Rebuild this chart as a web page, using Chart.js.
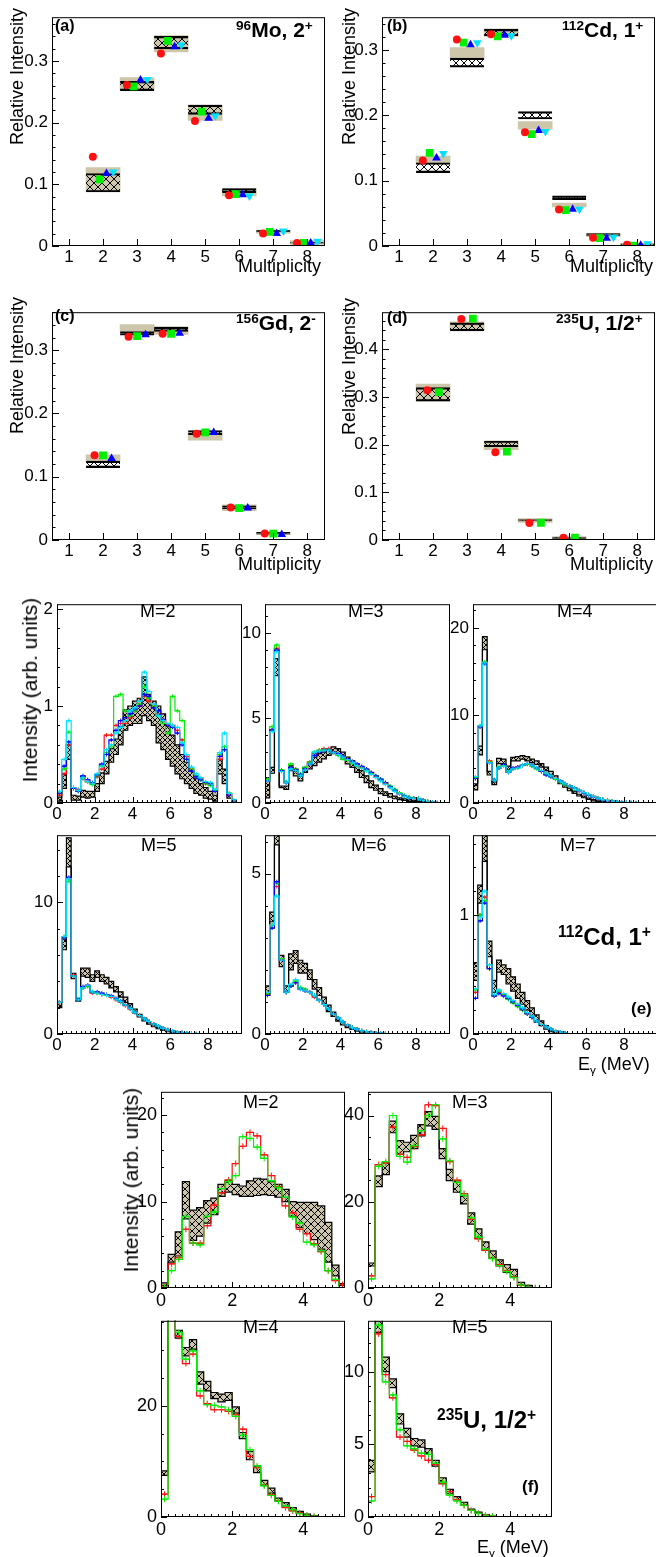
<!DOCTYPE html>
<html>
  <head>
    <meta charset="utf-8">
    <title>Multiplicity and gamma spectra</title>
    <script src="https://cdn.jsdelivr.net/npm/chart.js"></script>
    <style>
      body { margin: 0; background: #fff; overflow: hidden; }
      #page { position: relative; width: 656px; height: 1557px; overflow: hidden;
              font-family: "Liberation Sans", Arial, Helvetica, sans-serif; }
      canvas { position: absolute; }
      .t { position: absolute; white-space: nowrap; color: #000; line-height: 1; z-index: 2; }
      .b { font-weight: bold; }
      .v { writing-mode: vertical-rl; transform: rotate(180deg); }
      sup { font-size: 0.65em; vertical-align: 0.5em; line-height: 0; }
      sub { font-size: 0.65em; vertical-align: -0.3em; line-height: 0; }
    </style>
  </head>
  <body>
    <div id="page">
      <!-- (a)-(d) -->
      <div class="t b" style="left:55px;top:18px;font-size:16px">(a)</div>
      <div class="t b" style="left:236px;top:19px;font-size:21px"><sup>96</sup>Mo, 2<sup>+</sup></div>
      <div class="t b" style="left:387px;top:18px;font-size:16px">(b)</div>
      <div class="t b" style="left:562px;top:19px;font-size:21px"><sup>112</sup>Cd, 1<sup>+</sup></div>
      <div class="t b" style="left:55px;top:308px;font-size:16px">(c)</div>
      <div class="t b" style="left:236px;top:312px;font-size:21px"><sup>156</sup>Gd, 2<sup>-</sup></div>
      <div class="t b" style="left:387px;top:310px;font-size:16px">(d)</div>
      <div class="t b" style="left:556px;top:312px;font-size:21px"><sup>235</sup>U, 1/2<sup>+</sup></div>
      <div class="t v" style="left:8px;top:8px;font-size:18px">Relative Intensity</div>
      <div class="t v" style="left:340px;top:8px;font-size:18px">Relative Intensity</div>
      <div class="t v" style="left:8px;top:297px;font-size:18px">Relative Intensity</div>
      <div class="t v" style="left:340px;top:298px;font-size:18px">Relative Intensity</div>
      <div class="t" style="left:238px;top:257px;font-size:18px">Multiplicity</div>
      <div class="t" style="left:570px;top:257px;font-size:18px">Multiplicity</div>
      <div class="t" style="left:238px;top:555px;font-size:18px">Multiplicity</div>
      <div class="t" style="left:570px;top:555px;font-size:18px">Multiplicity</div>
      <!-- (e) -->
      <div class="t v" style="left:19px;top:598px;font-size:21px">Intensity (arb. units)</div>
      <div class="t" style="left:140px;top:602px;font-size:18px">M=2</div>
      <div class="t" style="left:348px;top:602px;font-size:18px">M=3</div>
      <div class="t" style="left:557px;top:602px;font-size:18px">M=4</div>
      <div class="t" style="left:141px;top:836px;font-size:18px">M=5</div>
      <div class="t" style="left:351px;top:836px;font-size:18px">M=6</div>
      <div class="t" style="left:560px;top:836px;font-size:18px">M=7</div>
      <div class="t b" style="left:558px;top:925px;font-size:24px"><sup>112</sup>Cd, 1<sup>+</sup></div>
      <div class="t b" style="left:631px;top:1000px;font-size:17px">(e)</div>
      <div class="t" style="left:578px;top:1055px;font-size:18px">E<sub>γ</sub> (MeV)</div>
      <!-- (f) -->
      <div class="t v" style="left:120px;top:1088px;font-size:21px">Intensity (arb. units)</div>
      <div class="t" style="left:243px;top:1093px;font-size:18px">M=2</div>
      <div class="t" style="left:452px;top:1093px;font-size:18px">M=3</div>
      <div class="t" style="left:243px;top:1318px;font-size:18px">M=4</div>
      <div class="t" style="left:452px;top:1318px;font-size:18px">M=5</div>
      <div class="t b" style="left:437px;top:1408px;font-size:24px"><sup>235</sup>U, 1/2<sup>+</sup></div>
      <div class="t b" style="left:522px;top:1478px;font-size:17px">(f)</div>
      <div class="t" style="left:477px;top:1538px;font-size:18px">E<sub>γ</sub> (MeV)</div>
    </div>

    <script>
      // ---- (a) 96Mo 2+ ----
      const moM = [2, 3, 4, 5, 6, 7, 8];
      const moSysLo = [0.0886, 0.252, 0.3145, 0.2036, 0.0813, 0.0207, 0.0026];
      const moSysHi = [0.127, 0.273, 0.341, 0.2285, 0.0933, 0.026, 0.0088];
      const moExpLo = [0.0876, 0.252, 0.3197, 0.2135, 0.0865, 0.0233, 0.0047];
      const moExpHi = [0.1176, 0.267, 0.340, 0.2285, 0.0933, 0.0254, 0.006];
      const moRed = [0.1446, 0.261, 0.312, 0.2026, 0.0824, 0.0202, 0.0047];
      const moGreen = [0.108, 0.259, 0.3326, 0.218, 0.084, 0.0228, 0.005];
      const moBlue = [0.1176, 0.269, 0.323, 0.207, 0.083, 0.0202, 0.0047];
      const moCyan = [0.12, 0.27, 0.326, 0.211, 0.081, 0.0243, 0.0078];

      // ---- (b) 112Cd 1+ ----
      const cdM = [2, 3, 4, 5, 6, 7, 8];
      const cdSysLo = [0.125, 0.2873, 0.3206, 0.1787, 0.0597, 0.0142, 0.0005];
      const cdSysHi = [0.1377, 0.3035, 0.3324, 0.1904, 0.0656, 0.019, 0.0034];
      const cdExpLo = [0.1122, 0.2736, 0.3216, 0.1943, 0.071, 0.0162, 0.0015];
      const cdExpHi = [0.1274, 0.2873, 0.3314, 0.2056, 0.0768, 0.019, 0.0034];
      const cdRed = [0.1309, 0.3157, 0.324, 0.174, 0.0558, 0.0127, 0.002];
      const cdGreen = [0.1426, 0.311, 0.3206, 0.171, 0.0548, 0.0122, 0.0005];
      const cdBlue = [0.1348, 0.308, 0.3225, 0.1767, 0.0563, 0.0117, 0.001];
      const cdCyan = [0.1416, 0.311, 0.3216, 0.175, 0.0563, 0.0132, 0.0034];

      // ---- (c) 156Gd 2- ----
      const gdM = [2, 3, 4, 5, 6, 7];
      const gdSysLo = [0.1246, 0.3303, 0.3248, 0.1578, 0.0464, 0.0088];
      const gdSysHi = [0.1346, 0.3404, 0.3369, 0.1715, 0.0555, 0.0116];
      const gdExpLo = [0.1145, 0.3237, 0.3298, 0.1664, 0.0494, 0.0091];
      const gdExpHi = [0.1246, 0.3293, 0.3364, 0.173, 0.054, 0.0121];
      const gdRed = [0.1341, 0.3212, 0.3258, 0.168, 0.0514, 0.0101];
      const gdGreen = [0.1336, 0.3222, 0.3258, 0.170, 0.0504, 0.0101];
      const gdBlue = [0.1286, 0.3243, 0.3268, 0.170, 0.0504, 0.0086];

      // ---- (d) 235U 1/2+ ----
      const uM = [2, 3, 4, 5, 6];
      const uSysLo = [0.2915, 0.4402, 0.1896, 0.0369, 0.0013];
      const uSysHi = [0.327, 0.4576, 0.2077, 0.0449, 0.0067];
      const uExpLo = [0.2915, 0.4389, 0.1956, 0.0402, 0.0034];
      const uExpHi = [0.3196, 0.4556, 0.2077, 0.0429, 0.006];
      const uRed = [0.3142, 0.4636, 0.1843, 0.0355, 0.0047];
      const uGreen = [0.3102, 0.4643, 0.1856, 0.0362, 0.0047];

      // ---- (e) 112Cd spectra, 0.25 MeV bins ----
      const e2Lo = [0.02,0.15,0.45,0.03,0.03,0.06,0.05,0.06,0.12,0.2, 0.3,0.42,0.5,0.6,0.75,0.8,0.82,0.82,0.9,0.85, 0.8,0.62,0.55,0.45,0.38,0.3,0.25,0.2,0.15,0.1, 0.08,0.05,0.04,0.02,0.3,0.2,0.05,0,0];
      const e2Hi = [0.06,0.3,0.6,0.08,0.07,0.13,0.12,0.12,0.2,0.31, 0.43,0.56,0.66,0.79,0.96,1.0,1.05,1.08,1.3,1.12, 1.05,1.0,0.92,0.8,0.7,0.6,0.5,0.42,0.33,0.25, 0.2,0.16,0.12,0.08,0.45,0.35,0.1,0.03,0];
      const e2Red = [0.08,0.3,0.6,0.16,0.14,0.25,0.22,0.2,0.27,0.35, 0.7,0.7,0.8,0.82,0.82,0.88,0.95,1.0,1.1,1.05, 1.0,0.92,0.85,0.8,0.8,0.75,0.65,0.48,0.35,0.28, 0.25,0.2,0.2,0.12,0.45,0.55,0.08,0.02,0];
      const e2Green = [0.1,0.35,0.73,0.15,0.12,0.26,0.22,0.19,0.28,0.38, 0.52,0.58,1.1,1.12,0.95,0.9,0.95,1.02,1.2,1.08, 1.0,0.9,0.82,0.72,1.1,0.95,0.85,0.45,0.35,0.28, 0.24,0.2,0.18,0.13,0.5,0.58,0.1,0.02,0];
      const e2Blue = [0.1,0.38,0.63,0.15,0.12,0.28,0.24,0.21,0.29,0.4, 0.5,0.65,0.75,0.85,0.88,0.92,0.97,1.0,1.12,1.1, 0.98,0.95,0.86,0.8,0.78,0.72,0.6,0.45,0.33,0.27, 0.24,0.21,0.2,0.12,0.48,0.55,0.08,0.02,0];
      const e2Cyan = [0.12,0.45,0.85,0.16,0.13,0.26,0.22,0.2,0.3,0.38, 0.55,0.6,0.72,0.78,0.85,0.95,0.98,1.05,1.35,1.15, 1.02,0.9,0.85,0.82,0.8,0.78,0.62,0.5,0.37,0.3, 0.26,0.22,0.21,0.14,0.52,0.72,0.1,0.03,0];

      const e3Lo = [0.3,1.75,7.5,0.9,0.8,1.9,1.6,1.3,1.8,2.0, 2.2,2.4,2.6,2.8,2.9,2.9,2.6,2.3,2.1,1.8, 1.5,1.2,0.9,0.75,0.55,0.45,0.35,0.25,0.2,0.15, 0.1,0.1,0.08,0.03,0.02,0];
      const e3Hi = [1.5,2.1,8.5,1.0,1.0,2.2,1.9,1.6,2.1,2.4, 2.7,2.9,3.0,3.2,3.3,3.2,3.0,2.7,2.5,2.2, 1.9,1.6,1.3,1.05,0.85,0.65,0.55,0.4,0.3,0.25, 0.2,0.15,0.12,0.08,0.04,0.01,0];
      const e3Red = [1.3,4.3,9.1,1.9,1.2,2.1,2.0,1.7,2.0,2.4, 2.9,3.1,3.2,3.2,3.0,2.85,2.7,2.55,2.4,2.25, 2.1,1.95,1.75,1.55,1.35,1.15,0.95,0.75,0.55,0.42, 0.32,0.28,0.25,0.16,0.08,0.04,0.01,0];
      const e3Green = [1.4,4.5,9.3,1.95,1.25,2.3,2.0,1.7,2.1,2.4, 3.0,3.1,3.15,3.1,3.0,2.8,2.6,2.5,2.35,2.2, 2.05,1.9,1.75,1.6,1.4,1.2,1.0,0.8,0.6,0.45, 0.35,0.3,0.28,0.18,0.09,0.04,0.01,0];
      const e3Blue = [1.3,4.3,9.0,1.9,1.2,2.1,1.95,1.65,2.0,2.3, 2.8,3.0,3.1,3.1,3.0,2.9,2.75,2.6,2.45,2.3, 2.15,2.0,1.8,1.6,1.4,1.2,0.95,0.75,0.55,0.42, 0.32,0.28,0.25,0.16,0.08,0.04,0.01,0];
      const e3Cyan = [1.3,4.2,8.9,1.85,1.2,2.0,1.9,1.6,1.95,2.3, 3.0,3.05,3.1,3.1,2.95,2.85,2.7,2.55,2.4,2.2, 2.05,1.9,1.7,1.5,1.3,1.1,0.9,0.7,0.55,0.4, 0.3,0.27,0.25,0.15,0.08,0.03,0.01,0];

      const e4Lo = [1.5,5.5,17.5,3.2,2.1,4.5,4.4,3.8,4.8,4.8, 5.0,4.8,4.6,4.4,4.1,3.7,3.2,2.8,2.2,1.8, 1.4,1.1,0.8,0.6,0.4,0.25,0.15,0.1,0.05,0.03, 0.02,0.01,0];
      const e4Hi = [2.2,6.5,19,3.6,2.4,5.1,5.0,4.2,5.2,5.3, 5.4,5.3,5.0,4.8,4.5,4.1,3.6,3.1,2.5,2.1, 1.7,1.35,1.0,0.8,0.55,0.4,0.25,0.18,0.1,0.06, 0.03,0.02,0.01,0];
      const e4Red = [2.8,8.7,16.0,4.8,2.7,4.0,4.3,3.5,3.9,4.1, 4.3,4.5,4.3,4.0,3.7,3.4,3.1,2.8,2.5,2.2, 1.95,1.7,1.45,1.2,0.95,0.75,0.55,0.4,0.3,0.2, 0.12,0.08,0.05,0.03,0.01,0];
      const e4Green = [2.9,8.8,16.1,4.7,2.6,4.1,4.3,3.6,3.9,4.0, 4.3,4.4,4.2,3.9,3.6,3.3,3.0,2.7,2.4,2.1, 1.9,1.65,1.45,1.2,0.95,0.75,0.55,0.4,0.3,0.2, 0.12,0.08,0.05,0.03,0.01,0];
      const e4Blue = [2.8,8.7,15.9,4.6,2.6,4.0,4.4,3.5,4.0,4.1, 4.3,4.5,4.3,4.0,3.6,3.2,3.0,2.8,2.5,2.2, 1.95,1.7,1.4,1.15,0.9,0.7,0.5,0.38,0.28,0.19, 0.12,0.08,0.05,0.03,0.01,0];
      const e4Cyan = [3.0,8.8,16.0,4.6,2.6,4.0,4.2,3.5,3.9,4.0, 4.3,4.5,4.3,4.0,3.7,3.4,3.1,2.8,2.5,2.2, 1.95,1.7,1.45,1.2,0.95,0.75,0.55,0.4,0.3,0.2, 0.12,0.08,0.05,0.03,0.01,0];

      const e5Lo = [2.0,6.4,12.7,4.2,2.5,4.4,4.3,4.0,4.3,4.0, 3.8,3.5,3.2,2.8,2.4,2.0,1.6,1.3,1.0,0.75, 0.55,0.4,0.28,0.18,0.12,0.08,0.05,0.02,0.01,0];
      const e5Hi = [2.4,7.2,14.9,4.6,2.7,5.0,5.0,4.5,4.8,4.5, 4.3,4.0,3.6,3.2,2.8,2.3,1.9,1.5,1.2,0.9, 0.7,0.5,0.36,0.25,0.17,0.11,0.07,0.03,0.01,0];
      const e5Red = [2.4,7.3,11.8,4.5,2.6,3.5,3.7,3.1,3.1,3.0, 2.95,2.8,2.6,2.4,2.15,1.9,1.65,1.4,1.15,0.95, 0.75,0.58,0.43,0.32,0.23,0.15,0.1,0.06,0.03,0.01,0];
      const e5Green = [2.4,7.4,11.6,4.4,2.6,3.5,3.6,3.2,3.1,3.0, 2.95,2.85,2.65,2.45,2.2,1.95,1.65,1.4,1.15,0.95, 0.75,0.58,0.43,0.32,0.23,0.15,0.1,0.06,0.03,0.01,0];
      const e5Blue = [2.4,7.3,11.9,4.4,2.6,3.6,3.7,3.2,3.2,3.1, 3.0,2.9,2.7,2.5,2.2,1.95,1.65,1.4,1.15,0.95, 0.75,0.58,0.43,0.32,0.23,0.15,0.1,0.06,0.03,0.01,0];
      const e5Cyan = [2.4,7.4,11.8,4.4,2.6,3.5,3.7,3.2,3.1,3.0, 2.95,2.85,2.65,2.45,2.2,1.95,1.65,1.4,1.15,0.95, 0.75,0.58,0.43,0.32,0.23,0.15,0.1,0.06,0.03,0.01,0];

      const e6Lo = [1.2,3.5,5.9,2.1,1.3,2.0,2.2,1.9,1.9,1.7, 1.4,1.2,0.95,0.7,0.55,0.4,0.28,0.2,0.14,0.09, 0.06,0.03,0.02,0.01,0];
      const e6Hi = [1.5,3.8,7.0,2.45,1.5,2.5,2.6,2.3,2.2,2.0, 1.7,1.45,1.15,0.9,0.68,0.5,0.36,0.25,0.18,0.12, 0.08,0.05,0.03,0.01,0];
      const e6Red = [1.25,3.4,4.6,2.3,1.3,1.5,1.6,1.4,1.35,1.3, 1.15,1.05,0.92,0.78,0.62,0.5,0.38,0.28,0.2,0.15, 0.1,0.07,0.05,0.03,0.02,0.01,0];
      const e6Green = [1.25,3.4,4.7,2.35,1.3,1.5,1.65,1.45,1.4,1.3, 1.2,1.05,0.92,0.78,0.62,0.5,0.38,0.28,0.2,0.15, 0.1,0.07,0.05,0.03,0.02,0.01,0];
      const e6Blue = [1.2,3.3,4.75,2.3,1.3,1.5,1.6,1.4,1.35,1.3, 1.2,1.05,0.92,0.78,0.62,0.5,0.38,0.28,0.2,0.15, 0.1,0.07,0.05,0.03,0.02,0.01,0];
      const e6Cyan = [1.3,3.4,4.3,2.3,1.3,1.55,1.7,1.4,1.35,1.3, 1.2,1.05,0.92,0.78,0.62,0.5,0.38,0.28,0.2,0.15, 0.1,0.07,0.05,0.03,0.02,0.01,0];

      const e7Lo = [0.45,1.1,1.45,0.65,0.35,0.52,0.5,0.42,0.36,0.3, 0.25,0.2,0.15,0.1,0.07,0.04,0.02,0.01,0];
      const e7Hi = [0.6,1.25,1.75,0.78,0.45,0.62,0.58,0.55,0.48,0.42, 0.35,0.28,0.22,0.16,0.11,0.07,0.04,0.02,0.01,0];
      const e7Red = [0.35,1.0,1.15,0.55,0.32,0.35,0.33,0.3,0.27,0.24, 0.2,0.17,0.14,0.11,0.08,0.06,0.04,0.025,0.015,0.008,0];
      const e7Green = [0.37,1.0,1.12,0.55,0.33,0.36,0.33,0.29,0.26,0.23, 0.2,0.17,0.14,0.11,0.08,0.06,0.04,0.025,0.015,0.008,0];
      const e7Blue = [0.3,0.95,1.1,0.55,0.32,0.34,0.32,0.3,0.27,0.24, 0.21,0.17,0.14,0.11,0.08,0.06,0.04,0.025,0.015,0.008,0];
      const e7Cyan = [0.38,0.98,1.2,0.58,0.33,0.37,0.34,0.31,0.28,0.25, 0.22,0.18,0.15,0.11,0.08,0.06,0.04,0.025,0.015,0.008,0];

      // ---- (f) 235U spectra, 0.2 MeV bins ----
      const f2Lo = [0.3,3.0,3.7,8.0,5.5,6.0,7.5,8.5,10.6,11.1, 10.8,10.6,10.6,10.7,10.8,10.7,10.5,10.0,8.3,7.0, 6.3,5.6,4.5,3.0,1.4,0.3,0];
      const f2Hi = [0.6,3.9,6.5,12.3,9.0,9.3,10.1,10.4,12.0,12.4, 12.0,11.8,12.4,12.7,12.6,12.3,12.0,11.4,10.0,9.9, 9.9,9.9,9.5,7.6,2.65,0.5,0];
      const f2Red = [0.2,2.8,3.5,6.8,5.2,5.2,7.2,9.6,11.0,12.5, 14.4,16.4,18.0,17.6,15.4,13.0,11.7,9.5,8.7,6.8, 6.3,5.1,4.2,2.0,0.85,0.4,0];
      const f2Green = [0.1,2.0,3.3,8.3,5.2,5.0,8.3,8.8,11.5,12.3, 13.0,17.5,17.3,16.3,15.0,12.4,11.6,10.5,8.2,7.5, 5.3,5.0,4.3,2.0,1.0,0];

      const f3Lo = [5.1,23.5,26.3,36.0,31.0,31.6,32.3,35.3,37.6,36.8, 30.0,24.9,22.2,19.5,14.8,11.5,8.8,6.9,5.1,3.6, 2.5,0.6,0.2,0];
      const f3Hi = [5.8,26.0,29.0,38.7,34.2,33.8,35.4,37.9,40.9,39.8, 32.3,27.5,24.9,21.4,17.4,13.7,10.7,8.6,6.5,5.4, 4.3,1.3,0.6,0.1,0];
      const f3Red = [2.8,28.6,29.0,37.3,31.0,30.3,32.8,35.5,42.5,42.3, 37.0,29.3,25.0,21.9,15.9,11.4,8.8,6.9,5.4,4.0, 2.5,0.6,0.2,0.05,0];
      const f3Green = [2.1,28.2,29.3,40.0,30.5,29.2,33.0,36.5,40.0,42.5, 34.6,29.5,24.5,21.5,16.3,11.8,9.0,6.8,5.2,3.8, 2.4,0.7,0.2,0.05,0];

      const f4Lo = [7.5,38,32.2,29.0,30.2,23.9,22.7,21.3,20.7,21.0, 18.7,14.1,10.3,8.0,5.7,4.3,2.9,2.0,1.3,0.7, 0.3,0.1,0];
      const f4Hi = [8.3,40,33.6,30.5,31.9,26.1,24.4,22.4,22.1,22.4, 19.8,15.2,11.8,9.2,6.6,5.2,3.4,2.6,1.7,1.0, 0.5,0.2,0];
      const f4Red = [4.1,39,32.5,27.6,29.3,21.8,20.4,19.3,19.3,19.0, 18.4,15.8,10.9,8.9,5.7,4.0,2.9,1.7,1.1,0.7, 0.3,0.1,0];
      const f4Green = [3.2,40,33.2,28.4,29.9,22.7,20.2,20.1,19.8,19.3, 18.1,14.7,12.1,9.2,5.6,3.9,2.8,2.0,1.3,0.6, 0.3,0.1,0];

      const f5Lo = [3.1,12.7,10.0,8.9,6.4,5.5,4.9,4.8,4.3,3.5, 2.3,1.6,1.2,0.8,0.45,0.26,0.1,0.03,0];
      const f5Hi = [3.9,14.0,11.0,9.5,7.1,6.1,5.4,5.3,4.7,3.9, 2.7,1.9,1.4,1.0,0.55,0.33,0.15,0.05,0];
      const f5Red = [1.4,12.6,9.8,8.2,5.5,5.2,4.6,4.2,3.9,3.6, 2.3,1.75,1.2,0.8,0.45,0.25,0.12,0.05,0];
      const f5Green = [1.1,13.2,9.3,8.4,6.0,4.9,4.7,4.4,4.3,3.7, 2.4,1.5,1.1,0.8,0.45,0.25,0.12,0.05,0];

      const BEIGE = '#cdc6ab';
      const RED = '#ff1010';
      const GREEN = '#00ee00';
      const BLUE = '#0000ff';
      const CYAN = '#00e2ff';

      Chart.defaults.font.family = '"Liberation Sans", Arial, Helvetica, sans-serif';
      Chart.defaults.color = '#000';
      Chart.defaults.animation = false;

      // cross hatch like ROOT fill style
      function hatch(bg, n) {
        const c = document.createElement('canvas');
        c.width = n; c.height = n;
        const g = c.getContext('2d');
        if (bg) { g.fillStyle = bg; g.fillRect(0, 0, n, n); }
        g.strokeStyle = '#000';
        g.lineWidth = 1;
        g.beginPath();
        g.moveTo(-1, -1); g.lineTo(n + 1, n + 1);
        g.moveTo(n + 1, -1); g.lineTo(-1, n + 1);
        g.stroke();
        return g.createPattern(c, 'repeat');
      }

      // frame + inward ticks
      const rootFrame = {
        id: 'rootFrame',
        afterDatasetsDraw(chart, args, o) {
          const {ctx, chartArea: a, scales: {x, y}} = chart;
          ctx.save();
          ctx.strokeStyle = '#000';
          ctx.lineWidth = 1;
          ctx.strokeRect(a.left + 0.5, a.top + 0.5, a.width - 1, a.height - 1);
          ctx.beginPath();
          const xm = o.xStep / o.xSub;
          for (let k = Math.ceil(x.min / xm - 1e-6); k * xm <= x.max + 1e-9; k++) {
            const px = Math.round(x.getPixelForValue(k * xm)) + 0.5;
            const len = k % o.xSub === 0 ? o.len : o.len / 2;
            ctx.moveTo(px, a.bottom); ctx.lineTo(px, a.bottom - len);
          }
          const ym = o.yStep / o.ySub;
          for (let k = Math.ceil(y.min / ym - 1e-6); k * ym <= y.max + 1e-9; k++) {
            const py = Math.round(y.getPixelForValue(k * ym)) + 0.5;
            const len = k % o.ySub === 0 ? o.len : o.len / 2;
            ctx.moveTo(a.left, py); ctx.lineTo(a.left + len, py);
          }
          ctx.stroke();
          ctx.restore();
        }
      };

      function place(r, m) {
        const c = document.createElement('canvas');
        c.width = r.w + m.l + m.r;
        c.height = r.h + m.t + m.b;
        c.style.left = (r.x - m.l) + 'px';
        c.style.top = (r.y - m.t) + 'px';
        document.getElementById('page').appendChild(c);
        return c;
      }

      function axes(m, size, xr, yr, pad) {
        const common = {type: 'linear', grid: {display: false, drawTicks: false}, border: {display: false}};
        return {
          x: {...common, min: xr[0], max: xr[1], offset: false,
              ticks: {stepSize: xr[2], font: {size}, padding: pad, includeBounds: false, maxRotation: 0, autoSkip: false},
              afterFit: s => { s.height = m.b; }},
          y: {...common, min: yr[0], max: yr[1],
              ticks: {stepSize: yr[2], font: {size}, padding: 4, includeBounds: false},
              afterFit: s => { s.width = m.l; }}
        };
      }

      function multPanel(r, yMax, ms, sysLo, sysHi, expLo, expHi, markers) {
        const m = {l: 42, r: 4, t: 4, b: 24};
        const box = (lo, hi) => ms.map((v, i) => ({x: v, y: [lo[i], hi[i]]}));
        const bar = {type: 'bar', grouped: false, categoryPercentage: 1, barPercentage: 1, borderSkipped: false};
        const sets = [
          {...bar, data: box(sysLo, sysHi), backgroundColor: BEIGE, borderWidth: 0, order: 3},
          {...bar, data: box(expLo, expHi), backgroundColor: hatch(null, 8), borderColor: '#000',
           borderWidth: {top: 1.5, bottom: 1.5, left: 0, right: 0}, order: 2}
        ];
        markers.forEach(k => sets.push({
          type: 'scatter', data: ms.map((v, i) => ({x: v + k.dx, y: k.vals[i]})),
          pointStyle: k.shape, pointRotation: k.rot || 0, pointRadius: k.r,
          pointBackgroundColor: k.color, pointBorderWidth: 0, order: 1
        }));
        new Chart(place(r, m), {
          type: 'bar',
          data: {datasets: sets},
          options: {
            responsive: false,
            layout: {padding: {top: m.t, right: m.r}, autoPadding: false},
            // max a little above 8.5 so the ticks fall on whole multiplicities
            scales: axes(m, 17, [0.5, 8.52, 1], [0, yMax, 0.1], 1),
            plugins: {legend: {display: false}, tooltip: {enabled: false},
                      rootFrame: {xStep: 1, xSub: 1, yStep: 0.1, ySub: 5, len: 7}}
          },
          plugins: [rootFrame]
        });
      }

      function histPanel(r, o) {
        const m = {l: 32, r: 3, t: 6, b: 24};
        const edges = vals => vals.map((v, i) => ({x: i * o.bw, y: v})).concat([{x: vals.length * o.bw, y: vals[vals.length - 1]}]);
        const centres = vals => vals.map((v, i) => ({x: (i + 0.5) * o.bw, y: v})).filter(p => p.y > 0);
        const step = {stepped: true, pointRadius: 0, borderWidth: 1.2, fill: false};
        const sets = [
          {...step, data: edges(o.hi), borderColor: '#000', fill: '+1', backgroundColor: hatch(BEIGE, o.hs), order: 20},
          {...step, data: edges(o.lo), borderColor: '#000', order: 19}
        ];
        o.models.forEach((s, k) => {
          sets.push({...step, data: edges(s.vals), borderColor: s.color, order: 10 - k});
          sets.push({type: 'scatter', data: centres(s.vals), pointStyle: 'cross', pointRadius: o.cr,
                     pointBorderColor: s.color, pointBorderWidth: 1, order: 5 - k});
        });
        new Chart(place(r, m), {
          type: 'line',
          data: {datasets: sets},
          options: {
            responsive: false,
            layout: {padding: {top: m.t, right: m.r}, autoPadding: false},
            scales: axes(m, o.fs, [0, o.xMax, 2], [0, o.yMax, o.yStep], o.pad),
            plugins: {legend: {display: false}, tooltip: {enabled: false},
                      rootFrame: {xStep: 2, xSub: o.xSub, yStep: o.yStep, ySub: o.ySub, len: 6}}
          },
          plugins: [rootFrame]
        });
      }

      const mk = (vals, color, shape, dx, r, rot) => ({vals, color, shape, dx, r, rot});

      multPanel({x: 52, y: 7, w: 273, h: 239}, 0.371, moM, moSysLo, moSysHi, moExpLo, moExpHi, [
        mk(moRed, RED, 'circle', -0.3, 4), mk(moGreen, GREEN, 'rect', -0.1, 5.5),
        mk(moBlue, BLUE, 'triangle', 0.1, 5), mk(moCyan, CYAN, 'triangle', 0.3, 5, 180)]);
      multPanel({x: 382, y: 7, w: 273, h: 239}, 0.35, cdM, cdSysLo, cdSysHi, cdExpLo, cdExpHi, [
        mk(cdRed, RED, 'circle', -0.3, 4), mk(cdGreen, GREEN, 'rect', -0.1, 5.5),
        mk(cdBlue, BLUE, 'triangle', 0.1, 5), mk(cdCyan, CYAN, 'triangle', 0.3, 5, 180)]);
      multPanel({x: 52, y: 302, w: 273, h: 238}, 0.36, gdM, gdSysLo, gdSysHi, gdExpLo, gdExpHi, [
        mk(gdRed, RED, 'circle', -0.25, 4), mk(gdGreen, GREEN, 'rect', 0, 5.5),
        mk(gdBlue, BLUE, 'triangle', 0.25, 5)]);
      multPanel({x: 382, y: 302, w: 273, h: 238}, 0.478, uM, uSysLo, uSysHi, uExpLo, uExpHi, [
        mk(uRed, RED, 'circle', -0.17, 4), mk(uGreen, GREEN, 'rect', 0.17, 5.5)]);

      const cdModels = (r, g, b, c) => [{vals: r, color: RED}, {vals: g, color: GREEN}, {vals: b, color: BLUE}, {vals: c, color: CYAN}];
      const eOpt = {bw: 0.25, xMax: 9.8, xSub: 8, fs: 17, pad: 1, hs: 5, cr: 2};
      histPanel({x: 57, y: 596, w: 185, h: 207}, {...eOpt, yMax: 2.05, yStep: 1, ySub: 5, lo: e2Lo, hi: e2Hi, models: cdModels(e2Red, e2Green, e2Blue, e2Cyan)});
      histPanel({x: 265, y: 596, w: 185, h: 207}, {...eOpt, yMax: 11.7, yStep: 5, ySub: 5, lo: e3Lo, hi: e3Hi, models: cdModels(e3Red, e3Green, e3Blue, e3Cyan)});
      histPanel({x: 473, y: 596, w: 185, h: 207}, {...eOpt, yMax: 22.7, yStep: 10, ySub: 5, lo: e4Lo, hi: e4Hi, models: cdModels(e4Red, e4Green, e4Blue, e4Cyan)});
      histPanel({x: 57, y: 827, w: 185, h: 207}, {...eOpt, yMax: 15.1, yStep: 10, ySub: 5, lo: e5Lo, hi: e5Hi, models: cdModels(e5Red, e5Green, e5Blue, e5Cyan)});
      histPanel({x: 265, y: 827, w: 185, h: 207}, {...eOpt, yMax: 6.2, yStep: 5, ySub: 5, lo: e6Lo, hi: e6Hi, models: cdModels(e6Red, e6Green, e6Blue, e6Cyan)});
      histPanel({x: 473, y: 827, w: 185, h: 207}, {...eOpt, yMax: 1.67, yStep: 1, ySub: 5, lo: e7Lo, hi: e7Hi, models: cdModels(e7Red, e7Green, e7Blue, e7Cyan)});

      const uModels = (r, g) => [{vals: r, color: RED}, {vals: g, color: GREEN}];
      const fOpt = {bw: 0.2, xMax: 5.17, xSub: 10, fs: 18, pad: 2, hs: 7, cr: 3};
      histPanel({x: 161, y: 1083, w: 184, h: 205}, {...fOpt, yMax: 22.7, yStep: 10, ySub: 5, lo: f2Lo, hi: f2Hi, models: uModels(f2Red, f2Green)});
      histPanel({x: 368, y: 1083, w: 184, h: 205}, {...fOpt, yMax: 45.5, yStep: 20, ySub: 4, lo: f3Lo, hi: f3Hi, models: uModels(f3Red, f3Green)});
      histPanel({x: 161, y: 1312, w: 184, h: 205}, {...fOpt, yMax: 35.3, yStep: 20, ySub: 4, lo: f4Lo, hi: f4Hi, models: uModels(f4Red, f4Green)});
      histPanel({x: 368, y: 1312, w: 184, h: 205}, {...fOpt, yMax: 13.5, yStep: 5, ySub: 5, lo: f5Lo, hi: f5Hi, models: uModels(f5Red, f5Green)});
    </script>
  </body>
</html>
